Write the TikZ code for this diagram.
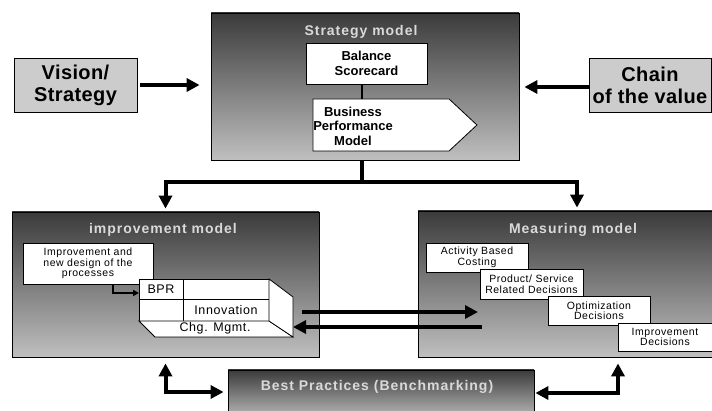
\documentclass[tikz,border=0pt]{standalone}
\usepackage{fontspec}
\setmainfont{Liberation Sans}
\usepackage{tikz}
\usetikzlibrary{positioning,shapes.symbols,arrows,arrows.meta,calc}

\begin{document}
\begin{tikzpicture}[%
    x=1pt, y=-1pt,
    >={Triangle[width=13pt,length=13pt]},
    node distance=0pt, align=center,
    bigbox/.style={draw, line width=0.8pt, top color=black!77, middle color=black!34, bottom color=black!25},
    sidebox/.style={draw, line width=0.8pt, fill=black!20, font=\bfseries\fontsize{20}{22}\selectfont\addfontfeatures{LetterSpace=2}},
    heading/.style={text=black!15, font=\bfseries\fontsize{14}{16}\selectfont\addfontfeatures{LetterSpace=7}},
    wbox/.style={draw, line width=0.8pt, fill=white, inner sep=0pt},
    bfnode/.style={font=\bfseries\fontsize{13}{14.5}\selectfont},
    smalltext/.style={font=\fontsize{10.5}{10.5}\selectfont\addfontfeatures{LetterSpace=5}},
    cell/.style={draw, line width=0.8pt, fill=white, inner sep=0pt, outer sep=0pt, font=\fontsize{12.5}{14}\selectfont\addfontfeatures{LetterSpace=5}},
    fat/.style={line width=4pt},
    lead/.style={line width=1.5pt, >={Triangle[width=6pt,length=6pt]}}
  ]
    \useasboundingbox (0,0) rectangle (712,411);

    \node[bigbox, minimum width=308pt, minimum height=147pt] (strat) at (365,86.5) {};
    \node[heading] (strathead) at (361,32) {Strategy model};
    \node[wbox, bfnode, minimum width=121pt, minimum height=41pt] (bsc) at (366.5,63.5) {Balance\\Scorecard};
    \node[signal, signal to=east, signal pointer angle=86, wbox, minimum width=164pt, minimum height=52pt] (bpm) at (381,125) {};
    \node[bfnode] (bpmtext) at (353,126) {Business\\Performance\\Model};
    \draw[line width=2.5pt] ([xshift=-4.5pt]bsc.south) -- ([xshift=-4.5pt]bsc.south |- bpm.north);

    \node[sidebox, minimum width=123pt, minimum height=54pt] (vision) at (75.5,85) {Vision/\\Strategy};
    
    \node[sidebox, minimum width=122pt, minimum height=54pt] (chain) at (650,85) {Chain\\of the value};

    \draw[fat, ->, shorten <=3pt, shorten >=11pt] (vision.east) -- (strat.west |- vision.east);
    \draw[fat, ->, shorten >=5pt] ([yshift=-2pt]chain.west) -- ([yshift=-2pt]strat.east |- chain.west);

    \node[bigbox, minimum width=307pt, minimum height=145pt] (impr) at (165.5,284.5) {};
    \node[heading] (imprhead) at (163,230) {improvement model};
    \node[wbox, smalltext, minimum width=130pt, minimum height=41pt] (proc) at (88,263.5) {Improvement and\\new design of the\\processes};

    \node[cell, minimum width=44pt, minimum height=20pt] (bpr) at (161,289) {BPR};
    \node[cell, minimum width=86pt, minimum height=20pt, right=of bpr] (blank1) {};
    \node[cell, minimum width=44pt, minimum height=22pt, below=of bpr] (blank2) {};
    \node[cell, minimum width=86pt, minimum height=22pt, below=of blank1] (innov) {Innovation};
    \draw[line width=0.8pt, fill=white] (blank2.south west) -- (innov.south east) -- ++(24,16) -- ($(blank2.south west)+(16,16)$) -- cycle;
    \draw[line width=0.8pt, fill=white] (blank1.north east) -- ++(24,18) -- ++(0,40) -- (innov.south east) -- cycle;
    \node[cell, draw=none, fill=none] (chg) at (215,328) {Chg. Mgmt.};

    \draw[lead, ->] ([xshift=25pt]proc.south) |- ([yshift=-4pt]bpr.west);

    \node[bigbox, minimum width=318pt, minimum height=146pt] (meas) at (577,284) {};
    \node[heading] (meashead) at (573,230) {Measuring model};
    \node[wbox, smalltext, minimum width=102pt, minimum height=29pt] (abc) at (477,257.5) {Activity Based\\Costing};
    \node[wbox, smalltext, minimum width=103pt, minimum height=30pt] (psd) at (531.5,284) {Product/ Service\\Related Decisions};
    \node[wbox, smalltext, minimum width=102pt, minimum height=29pt] (opt) at (599,310.5) {Optimization\\Decisions};
    \node[wbox, smalltext, minimum width=94pt, minimum height=28pt] (imd) at (665,337) {Improvement\\Decisions};

    \coordinate (split) at (362,182);
    \draw[fat] (strat.south -| split) -- (split);
    \draw[fat, ->, shorten >=3pt] (split) -| (impr.north);
    \draw[fat, ->, shorten >=3pt] (split) -| (meas.north);

    \coordinate (toout) at (302,312);
    \coordinate (toin) at (478,312);
    \coordinate (backout) at (482,327);
    \coordinate (backin) at (293,327);
    \draw[fat, ->] (toout) -- (toin);
    \draw[fat, ->] (backout) -- (backin);

    \node[bigbox, minimum width=306pt, minimum height=50pt] (best) at (381,395) {};
    \node[heading] (besthead) at (377,387) {Best Practices (Benchmarking)};

    \draw[fat, <->, shorten <=6pt, shorten >=4pt] (impr.south) |- ([yshift=3pt]best.west);
    \draw[fat, <->, shorten <=6pt, shorten >=1pt] ([xshift=41pt]meas.south) |- ([yshift=2pt]best.east);
  \end{tikzpicture}
\end{document}
